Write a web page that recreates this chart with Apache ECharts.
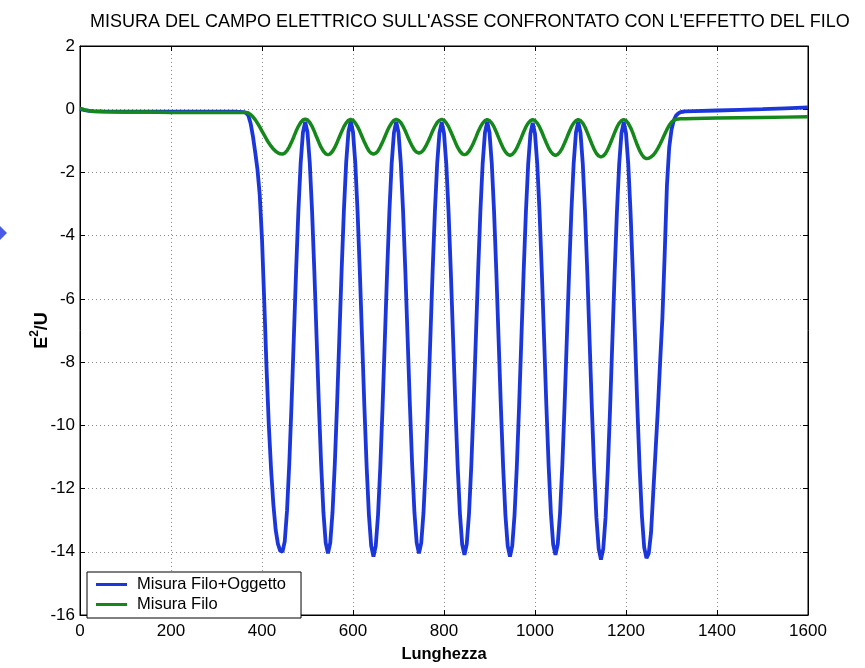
<!DOCTYPE html>
<html>
<head>
<meta charset="utf-8">
<script src="https://cdn.jsdelivr.net/npm/echarts@6/dist/echarts.min.js"></script>
<style>
html,body{margin:0;padding:0;background:#fff;}
#chart{width:865px;height:668px;}
</style>
</head>
<body>
<div id="chart"></div>
<script>
const titleText = "MISURA DEL CAMPO ELETTRICO SULL'ASSE CONFRONTATO CON L'EFFETTO DEL FILO";
const seriesNames = ["Misura Filo+Oggetto", "Misura Filo"];
const xTicks = [0, 200, 400, 600, 800, 1000, 1200, 1400, 1600];
const yTicks = [-16, -14, -12, -10, -8, -6, -4, -2, 0, 2];

const lunghezza = [
  0,5,10,20,30,50,100,150,200,250,300,340,360,
  365,370,375,380,385,390,395,400,405,410,415,420,425,430,435,440,445,
  450,455,460,465,470,475,480,485,490,495,
  500,505,510,515,520,525,530,535,540,545,
  550,555,560,565,570,575,580,585,590,595,
  600,605,610,615,620,625,630,635,640,645,
  650,655,660,665,670,675,680,685,690,695,
  700,705,710,715,720,725,730,735,740,745,
  750,755,760,765,770,775,780,785,790,795,
  800,805,810,815,820,825,830,835,840,845,
  850,855,860,865,870,875,880,885,890,895,
  900,905,910,915,920,925,930,935,940,945,
  950,955,960,965,970,975,980,985,990,995,
  1000,1005,1010,1015,1020,1025,1030,1035,1040,1045,
  1050,1055,1060,1065,1070,1075,1080,1085,1090,1095,
  1100,1105,1110,1115,1120,1125,1130,1135,1140,1145,
  1150,1155,1160,1165,1170,1175,1180,1185,1190,1195,
  1200,1205,1210,1215,1220,1225,1230,1235,1240,1245,
  1250,1255,1260,1265,1270,1275,1280,1285,1290,1295,1300,1305,1310,1315,1320,1325,1330,
  1350,1400,1450,1500,1550,1600
];

const filoOggetto = [
  0.0,-0.01,-0.03,-0.05,-0.06,-0.07,-0.08,-0.08,-0.08,-0.08,-0.08,-0.08,-0.09,
  -0.12,-0.2,-0.45,-0.85,-1.35,-1.9,-2.7,-4.1,-6.1,-8.2,-10.0,-11.4,-12.5,-13.3,-13.75,-13.97,-14.0,
  -13.67,-12.7,-11.2,-9.31,-7.2,-5.09,-3.2,-1.7,-0.73,-0.4,
  -0.73,-1.7,-3.21,-5.11,-7.23,-9.34,-11.24,-12.75,-13.72,-14.05,
  -13.72,-12.75,-11.23,-9.33,-7.22,-5.1,-3.2,-1.69,-0.72,-0.38,
  -0.72,-1.7,-3.22,-5.13,-7.27,-9.4,-11.31,-12.84,-13.81,-14.15,
  -13.81,-12.84,-11.32,-9.41,-7.28,-5.14,-3.23,-1.71,-0.74,-0.4,
  -0.73,-1.7,-3.21,-5.11,-7.23,-9.34,-11.24,-12.75,-13.72,-14.05,
  -13.72,-12.75,-11.24,-9.35,-7.24,-5.12,-3.23,-1.72,-0.75,-0.42,
  -0.76,-1.73,-3.24,-5.14,-7.26,-9.38,-11.28,-12.79,-13.77,-14.1,
  -13.76,-12.79,-11.28,-9.37,-7.25,-5.13,-3.22,-1.71,-0.74,-0.4,
  -0.74,-1.71,-3.23,-5.14,-7.28,-9.41,-11.32,-12.84,-13.81,-14.15,
  -13.81,-12.84,-11.32,-9.42,-7.29,-5.16,-3.26,-1.74,-0.77,-0.43,
  -0.77,-1.74,-3.25,-5.15,-7.27,-9.38,-11.28,-12.79,-13.77,-14.1,
  -13.76,-12.79,-11.28,-9.37,-7.25,-5.13,-3.22,-1.71,-0.74,-0.4,
  -0.74,-1.72,-3.25,-5.18,-7.33,-9.47,-11.4,-12.93,-13.91,-14.25,
  -13.91,-12.93,-11.4,-9.48,-7.34,-5.19,-3.27,-1.74,-0.76,-0.42,
  -0.76,-1.74,-3.26,-5.17,-7.31,-9.45,-11.36,-12.88,-13.86,-14.2,
  -14.05,-13.4,-12.1,-10.8,-9.5,-8.0,-6.6,-4.6,-2.4,-1.2,-0.65,-0.35,-0.2,-0.13,-0.09,-0.08,-0.07,
  -0.06,-0.04,-0.02,0.0,0.03,0.06
];

const filo = [
  0.02,0.01,-0.02,-0.05,-0.07,-0.08,-0.09,-0.09,-0.1,-0.1,-0.1,-0.1,-0.1,
  -0.1,-0.12,-0.17,-0.24,-0.33,-0.44,-0.56,-0.69,-0.82,-0.95,-1.07,-1.17,-1.26,-1.33,-1.38,-1.41,-1.42,
  -1.39,-1.31,-1.19,-1.04,-0.87,-0.69,-0.54,-0.42,-0.34,-0.31,
  -0.34,-0.42,-0.54,-0.7,-0.88,-1.05,-1.21,-1.33,-1.41,-1.44,
  -1.41,-1.33,-1.21,-1.05,-0.88,-0.71,-0.55,-0.43,-0.35,-0.32,
  -0.35,-0.43,-0.55,-0.7,-0.87,-1.04,-1.19,-1.32,-1.39,-1.42,
  -1.39,-1.32,-1.19,-1.04,-0.87,-0.7,-0.55,-0.43,-0.35,-0.32,
  -0.35,-0.42,-0.54,-0.69,-0.86,-1.02,-1.17,-1.29,-1.36,-1.39,
  -1.36,-1.29,-1.17,-1.02,-0.86,-0.69,-0.54,-0.42,-0.35,-0.32,
  -0.35,-0.43,-0.55,-0.71,-0.88,-1.05,-1.21,-1.33,-1.41,-1.44,
  -1.41,-1.33,-1.21,-1.06,-0.89,-0.71,-0.56,-0.44,-0.36,-0.33,
  -0.36,-0.44,-0.56,-0.72,-0.9,-1.07,-1.23,-1.35,-1.43,-1.46,
  -1.43,-1.35,-1.23,-1.07,-0.9,-0.72,-0.56,-0.44,-0.36,-0.33,
  -0.36,-0.44,-0.56,-0.72,-0.9,-1.07,-1.23,-1.35,-1.43,-1.46,
  -1.43,-1.35,-1.23,-1.07,-0.9,-0.72,-0.56,-0.44,-0.36,-0.33,
  -0.36,-0.44,-0.57,-0.74,-0.92,-1.1,-1.27,-1.4,-1.48,-1.51,
  -1.48,-1.4,-1.27,-1.1,-0.92,-0.74,-0.57,-0.44,-0.36,-0.33,
  -0.36,-0.45,-0.58,-0.75,-0.95,-1.14,-1.31,-1.44,-1.53,-1.56,
  -1.55,-1.51,-1.45,-1.36,-1.24,-1.1,-0.95,-0.79,-0.64,-0.51,-0.41,-0.35,-0.32,-0.31,-0.3,-0.3,-0.3,
  -0.29,-0.28,-0.27,-0.26,-0.25,-0.24
];

const FONT = "'Liberation Sans', Arial, sans-serif";
const BLUE = '#1b37dc';
const GREEN = '#14881a';

const pairs = (ys) => lunghezza.map((x, i) => [x, ys[i]]);

const chart = echarts.init(document.getElementById('chart'), null, {renderer: 'canvas'});

const gridLine = {show: true, lineStyle: {color: '#8a8a8a', type: [1, 3], width: 1}};
const plainNum = (v) => String(v);

chart.setOption({
  animation: false,
  backgroundColor: '#fff',
  textStyle: {fontFamily: FONT},
  title: {
    text: titleText,
    left: 85, top: 8,
    textStyle: {fontFamily: FONT, fontSize: 18, fontWeight: 'normal', color: '#000'}
  },
  grid: {left: 80, right: 57, top: 46, bottom: 51, show: true, borderColor: '#000', borderWidth: 1, backgroundColor: 'transparent'},
  legend: {
    orient: 'vertical',
    left: 87, top: 572,
    data: seriesNames,
    icon: 'rect',
    itemWidth: 31, itemHeight: 3,
    itemGap: 3,
    padding: [4, 15, 5, 9],
    borderColor: '#000', borderWidth: 1, borderRadius: 0,
    backgroundColor: '#fff',
    textStyle: {fontFamily: FONT, fontSize: 16.5, color: '#000', lineHeight: 16, padding: [0, 0, 0, 5]}
  },
  xAxis: [{
    type: 'value', min: xTicks[0], max: xTicks[xTicks.length - 1], interval: 200,
    name: 'Lunghezza', nameLocation: 'middle', nameGap: 31, nameMoveOverlap: false,
    nameTextStyle: {fontFamily: FONT, fontSize: 16.5, fontWeight: 'bold', color: '#000'},
    axisLine: {show: true, onZero: false, lineStyle: {color: '#000', width: 1}},
    axisTick: {show: true, inside: true, length: 5, lineStyle: {color: '#000'}},
    axisLabel: {fontFamily: FONT, fontSize: 17, color: '#000', margin: 8, formatter: plainNum},
    splitLine: gridLine
  }, {
    type: 'value', position: 'top', min: xTicks[0], max: xTicks[xTicks.length - 1], interval: 200,
    axisLine: {show: true, onZero: false, lineStyle: {color: '#000', width: 1}},
    axisTick: {show: true, inside: true, length: 5, lineStyle: {color: '#000'}},
    axisLabel: {show: false}, splitLine: {show: false}
  }],
  yAxis: [{
    type: 'value', min: yTicks[0], max: yTicks[yTicks.length - 1], interval: 2,
    name: '{b|E}{s|2}{b|/U}', nameLocation: 'middle', nameGap: 29, nameRotate: 90, nameMoveOverlap: false,
    nameTextStyle: {
      rich: {
        b: {fontFamily: FONT, fontSize: 18, fontWeight: 'bold', color: '#000', lineHeight: 22, verticalAlign: 'bottom'},
        s: {fontFamily: FONT, fontSize: 12, fontWeight: 'bold', color: '#000', lineHeight: 22, verticalAlign: 'top'}
      }
    },
    axisLine: {show: true, onZero: false, lineStyle: {color: '#000', width: 1}},
    axisTick: {show: true, inside: true, length: 5, lineStyle: {color: '#000'}},
    axisLabel: {fontFamily: FONT, fontSize: 17, color: '#000', margin: 5, formatter: plainNum},
    splitLine: gridLine
  }, {
    type: 'value', position: 'right', min: yTicks[0], max: yTicks[yTicks.length - 1], interval: 2,
    axisLine: {show: true, onZero: false, lineStyle: {color: '#000', width: 1}},
    axisTick: {show: true, inside: true, length: 5, lineStyle: {color: '#000'}},
    axisLabel: {show: false}, splitLine: {show: false}
  }],
  series: [{
    name: seriesNames[0], type: 'line', data: pairs(filoOggetto),
    showSymbol: false, symbol: 'none', smooth: false,
    lineStyle: {color: BLUE, width: 3.8}, itemStyle: {color: BLUE}, z: 2
  }, {
    name: seriesNames[1], type: 'line', data: pairs(filo),
    showSymbol: false, symbol: 'none', smooth: false,
    lineStyle: {color: GREEN, width: 3.5}, itemStyle: {color: GREEN}, z: 3
  }],
  graphic: [{
    type: 'polygon', left: -7, top: 226, silent: true,
    shape: {points: [[7, 0], [14, 7], [7, 14], [0, 7]]},
    style: {fill: '#4a5be6'}
  }]
});
</script>
</body>
</html>
